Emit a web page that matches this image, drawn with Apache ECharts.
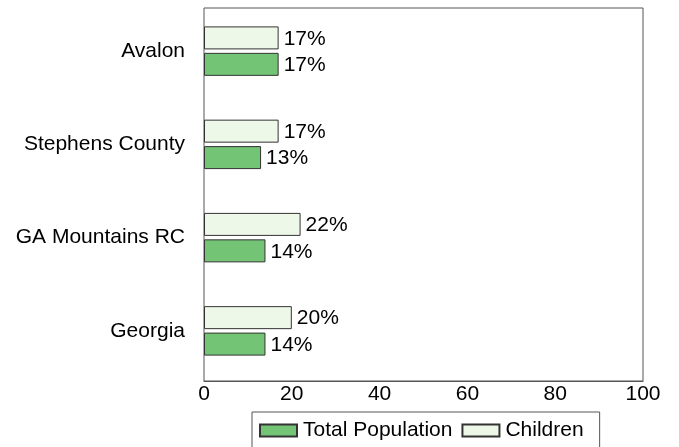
<!DOCTYPE html>
<html>
<head>
<meta charset="utf-8">
<script src="https://cdn.jsdelivr.net/npm/echarts@6/dist/echarts.min.js"></script>
<style>html,body{margin:0;padding:0;background:#fff}#c{width:679px;height:447px}</style>
</head>
<body>
<div id="c"></div>
<script>
const categories = ['Avalon', 'Stephens County', 'GA Mountains RC', 'Georgia'];
const totalPopulation = [17, 13, 14, 14];
const children = [17, 17, 22, 20];
const xTicks = [0, 20, 40, 60, 80, 100];

const FONT = 'Liberation Sans';
const FS = 21;
const chart = echarts.init(document.getElementById('c'));
const label = {
  show: true, position: 'right', distance: 5, formatter: '{c}%', offset: [0, 1],
  color: '#000', fontFamily: FONT, fontSize: FS
};
chart.setOption({
  animation: false,
  textStyle: { fontFamily: FONT },
  grid: [
    { left: 204, right: 36, top: 8, bottom: 66, show: true, borderColor: '#555', borderWidth: 1 },
    { left: 204, right: 36, top: 4.5, bottom: 69.5, show: false }
  ],
  xAxis: [
    { gridIndex: 0, type: 'value', min: 0, max: 100, interval: 20,
      axisLine: { show: true, lineStyle: { color: '#555' } },
      axisTick: { show: false }, splitLine: { show: false },
      axisLabel: { color: '#000', fontFamily: FONT, fontSize: FS, margin: 3,
        formatter: v => xTicks.includes(v) ? String(v) : '' } },
    { gridIndex: 1, type: 'value', min: 0, max: 100, show: false, splitLine: { show: false } }
  ],
  yAxis: [
    { gridIndex: 0, type: 'value', min: 0, max: 1, show: false, splitLine: { show: false } },
    { gridIndex: 1, type: 'category', data: categories, inverse: true,
      axisLine: { show: false }, axisTick: { show: false },
      axisLabel: { color: '#000', fontFamily: FONT, fontSize: FS, margin: 19 } }
  ],
  legend: {
    data: ['Total Population', 'Children'],
    bottom: -2, left: 252,
    icon: 'rect',
    itemWidth: 37, itemHeight: 12, itemGap: 9,
    borderColor: '#555', borderWidth: 1, borderRadius: 0,
    padding: [8, 16, 8, 7],
    textStyle: { color: '#000', fontFamily: FONT, fontSize: FS, padding: [0, 0, 0, 1] }
  },
  series: [
    { name: 'Children', type: 'bar', xAxisIndex: 1, yAxisIndex: 1, data: children,
      barWidth: 23, barGap: '15%',
      itemStyle: { color: '#edf8e9', borderColor: '#333', borderWidth: 1 }, label },
    { name: 'Total Population', type: 'bar', xAxisIndex: 1, yAxisIndex: 1, data: totalPopulation,
      barWidth: 23, barGap: '15%',
      itemStyle: { color: '#74c476', borderColor: '#333', borderWidth: 1 }, label }
  ]
});
</script>
</body>
</html>
